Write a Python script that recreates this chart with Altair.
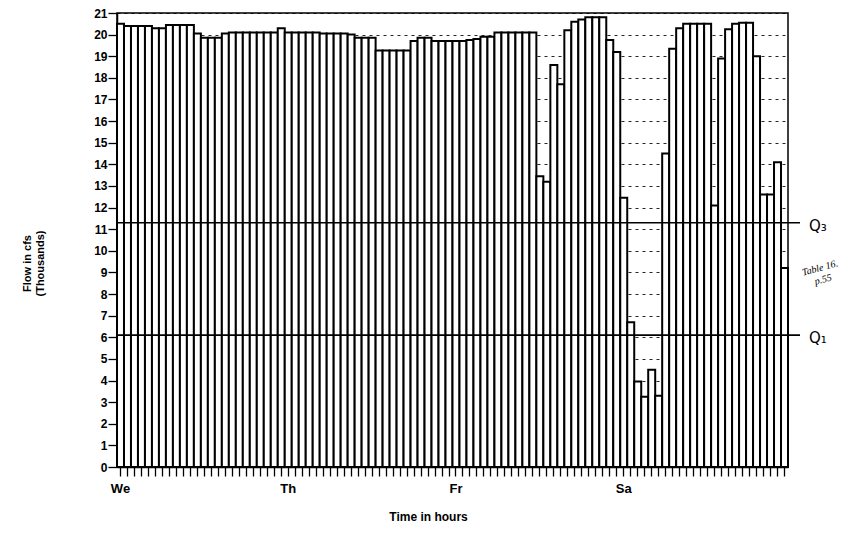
import altair as alt
import pandas as pd

# ---- data ----
hours = list(range(96))
flow = [
    20.5, 20.4, 20.4, 20.4, 20.4, 20.3, 20.3, 20.45, 20.45, 20.45,
    20.45, 20.05, 19.85, 19.85, 19.85, 20.05, 20.1, 20.1, 20.1, 20.1,
    20.1, 20.1, 20.1, 20.3, 20.1, 20.1, 20.1, 20.1, 20.1, 20.05,
    20.05, 20.05, 20.05, 20.0, 19.85, 19.85, 19.85, 19.27, 19.27, 19.27,
    19.27, 19.27, 19.7, 19.85, 19.85, 19.7, 19.7, 19.7, 19.7, 19.7,
    19.75, 19.8, 19.9, 19.9, 20.1, 20.1, 20.1, 20.1, 20.1, 20.1,
    13.45, 13.2, 18.6, 17.7, 20.2, 20.6, 20.7, 20.8, 20.8, 20.8,
    19.75, 19.2, 12.45, 6.7, 3.95, 3.25, 4.5, 3.3, 14.5, 19.35,
    20.3, 20.5, 20.5, 20.5, 20.5, 12.1, 18.9, 20.25, 20.5, 20.55,
    20.55, 19.0, 12.6, 12.6, 14.1, 9.2,
]
day_names = ["We", "Th", "Fr", "Sa"]
day_starts = [0, 24, 48, 72]
y_ticks = list(range(22))
q_names = ["Q\u2083", "Q\u2081"]
q_values = [11.3, 6.1]
note_text = ["Table 16.\np.55"]

df = pd.DataFrame({"hour": hours, "flow": flow})
qdf = pd.DataFrame({"q": q_values, "name": q_names})
ndf = pd.DataFrame({"note": note_text})

label_expr = " : ".join(
    f"datum.value == {s} ? '{n}'" for s, n in zip(day_starts, day_names)
) + " : ''"

FONT = "Liberation Sans"
Y_TITLE = ["Flow in cfs", "(Thousands)"]
yscale = alt.Scale(domain=[0, 21], nice=False, zero=True)
yaxis = alt.Axis(
    values=y_ticks, labelOverlap=False, tickSize=9,
    labelPadding=1, labelFontSize=12, labelFontWeight="bold",
    grid=True, gridColor="black", gridDash=[3, 4], gridWidth=1.2,
    gridOpacity=0.85,
    title=Y_TITLE, titleAngle=270,
    titleX=-90, titleY=250, titleAlign="center", titleBaseline="middle",
    titleFontSize=11, titleFontWeight="bold",
)

bars = alt.Chart(df).mark_bar(
    fill="white", stroke="black", strokeWidth=2
).encode(
    x=alt.X(
        "hour:O",
        scale=alt.Scale(paddingInner=0, paddingOuter=0),
        axis=alt.Axis(
            labelExpr=label_expr, labelAngle=0, labelOverlap=False,
            tickSize=9, labelPadding=6, labelFontSize=13, labelFontWeight="bold",
            title="Time in hours", titleX=311, titleY=49,
            titleAlign="center", titleBaseline="middle",
            titleFontSize=12, titleFontWeight="bold",
        ),
    ),
    y=alt.Y("flow:Q", scale=yscale, axis=yaxis, title=Y_TITLE),
)

rules = alt.Chart(qdf).mark_rule(color="black", strokeWidth=1.6).encode(
    y=alt.Y("q:Q", scale=yscale, axis=yaxis, title=Y_TITLE),
    x=alt.value(0),
    x2=alt.value(683),
)

qlabels = alt.Chart(qdf).mark_text(
    align="left", baseline="middle", fontSize=15, font="DejaVu Sans", dy=3
).encode(
    y=alt.Y("q:Q", scale=yscale, axis=yaxis, title=Y_TITLE),
    x=alt.value(692),
    text="name:N",
)

note = alt.Chart(ndf).mark_text(
    align="center", baseline="middle", fontSize=10, font="Liberation Serif",
    fontStyle="italic", angle=345, lineBreak="\n",
).encode(
    x=alt.value(703),
    y=alt.value(255),
    text="note:N",
)

chart = alt.layer(bars, rules, qlabels, note).properties(
    width=671,
    height=454,
    autosize=alt.AutoSizeParams(type="none"),
    padding={"left": 109, "top": 5, "right": 52, "bottom": 60},
).configure_view(
    stroke="black", strokeWidth=1.5
).configure_axis(
    domainColor="black", tickColor="black", labelColor="black",
    titleColor="black", labelFont=FONT, titleFont=FONT, domainWidth=1.5,
    tickWidth=1.3,
)

chart.save("out.html", embed_options={"renderer": "svg", "actions": False})
